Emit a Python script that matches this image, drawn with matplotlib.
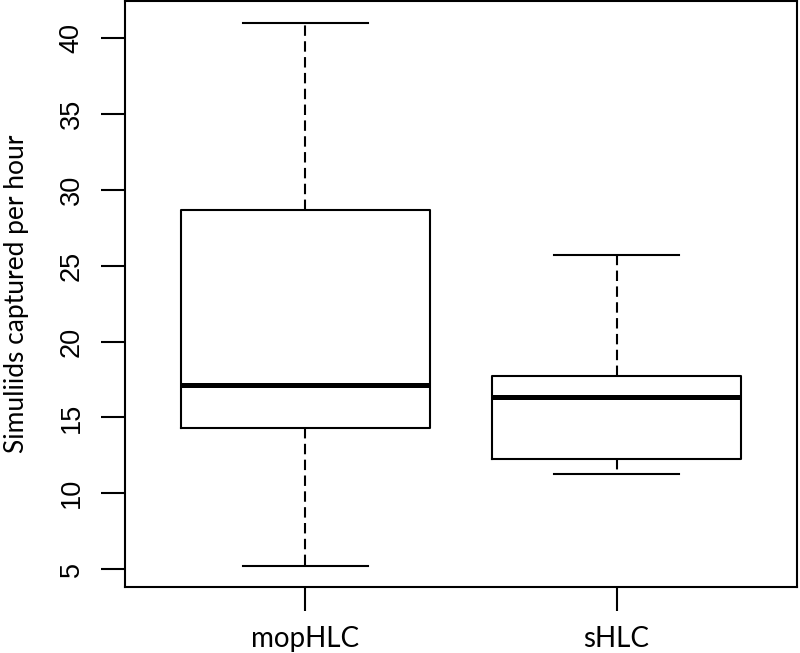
import matplotlib
matplotlib.use("Agg")
import matplotlib.pyplot as plt

categories = ["mopHLC", "sHLC"]
whis_low = [5.22, 11.25]
q1 = [14.28, 12.24]
median = [17.12, 16.36]
q3 = [28.68, 17.74]
whis_high = [40.95, 25.72]
yticks = [5, 10, 15, 20, 25, 30, 35, 40]

fig = plt.figure(figsize=(8.0, 6.53), dpi=100)
ax = fig.add_axes([125/800, 1 - 587/653, (797-125)/800, (587-1)/653])

stats = []
for i, c in enumerate(categories):
    stats.append(dict(label=c, whislo=whis_low[i], q1=q1[i], med=median[i],
                      q3=q3[i], whishi=whis_high[i], fliers=[]))

lw = 1.5
ax.bxp(stats, positions=[1, 2], widths=0.8, showfliers=False,
       boxprops=dict(color="black", linewidth=lw),
       medianprops=dict(color="black", linewidth=3.6, solid_capstyle="butt"),
       whiskerprops=dict(color="black", linewidth=lw, linestyle=(0, (5, 2.6))),
       capprops=dict(color="black", linewidth=lw),
       capwidths=0.4)

ax.set_xlim(0.42, 2.58)
ax.set_ylim(3.83, 42.43)
ax.set_yticks(yticks)
ax.set_yticklabels([str(v) for v in yticks], rotation=90, va="center",
                   family="Liberation Sans", fontsize=19.5)
ax.set_xticks([1, 2])
ax.set_xticklabels(categories, family="Lato", fontsize=20)
ax.tick_params(axis="both", length=17, width=lw, color="black")
ax.tick_params(axis="y", pad=12)
ax.tick_params(axis="x", pad=11)
for s in ax.spines.values():
    s.set_linewidth(lw)
ax.set_ylabel("Simuliids captured per hour", family="Lato", fontsize=19)
ax.yaxis.set_label_coords(-96/672, 0.5)

fig.savefig("out.png", dpi=100)
